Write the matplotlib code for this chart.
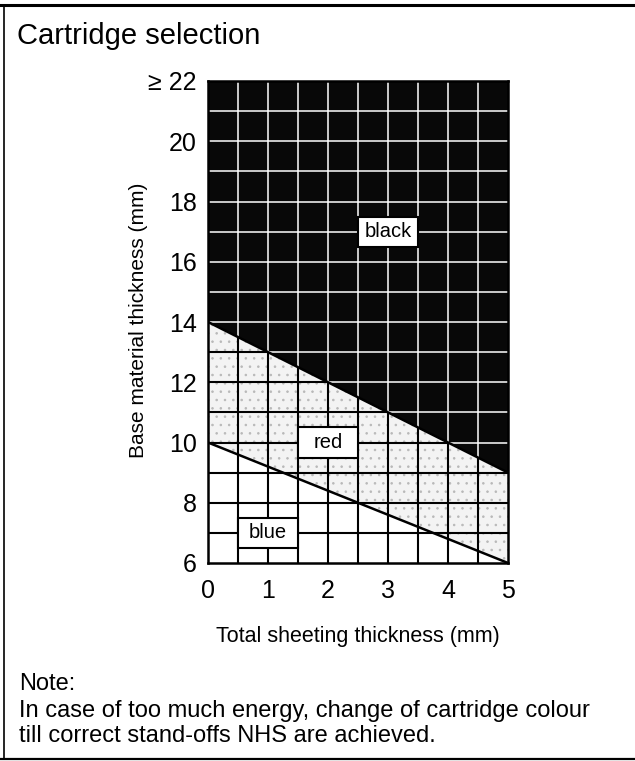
import numpy as np
import matplotlib
matplotlib.use("Agg")
import matplotlib.pyplot as plt
from matplotlib.lines import Line2D
from matplotlib.patches import Rectangle

# chart data
boundary_x = [0, 5]
black_lower = [14, 9]     # black / red boundary (mm)
red_lower = [10, 6]       # red / blue boundary (mm)
x_ticks = [0, 1, 2, 3, 4, 5]
y_ticks = [6, 8, 10, 12, 14, 16, 18, 20, 22]
y_tick_labels = ["6", "8", "10", "12", "14", "16", "18", "20", "\u2265 22"]
zone_names = ["black", "red", "blue"]
zone_x = [3.0, 2.0, 1.0]
zone_y = [17, 10, 7]

narrow = ["Liberation Sans Narrow", "Liberation Sans", "DejaVu Sans"]
regular = ["Liberation Sans", "DejaVu Sans"]

W, H = 635, 761
fig = plt.figure(figsize=(W / 100, H / 100), dpi=100)
ax = fig.add_axes([208 / W, 1 - 563 / H, 300 / W, 482 / H])

xmin, xmax, ymin, ymax = 0, 5, 6, 22
xs = np.linspace(xmin, xmax, 101)
up = np.interp(xs, boundary_x, black_lower)
lo = np.interp(xs, boundary_x, red_lower)

# zones
ax.fill_between(xs, up, ymax, color="#080808", lw=0, zorder=2)
plt.rcParams["hatch.linewidth"] = 0.6
ax.fill_between(xs, lo, up, facecolor="#f3f3f3", edgecolor="#b8b8b8",
                hatch="..", lw=0, zorder=1)

# grid: black in the lower part, white inside the black zone
gx = np.arange(0.5, 5.0, 0.5)
gy = np.arange(7, 22, 1)
gx_top = np.interp(gx, boundary_x, black_lower)
ax.vlines(gx, ymin, gx_top, color="black", lw=1.5, zorder=3)
ax.vlines(gx, gx_top, ymax, color="white", lw=1.1, zorder=3)
gy_split = np.interp(gy, black_lower[::-1], boundary_x[::-1])
ax.hlines(gy, xmin, gy_split, color="black", lw=1.5, zorder=3)
ax.hlines(gy, gy_split, xmax, color="white", lw=1.1, zorder=3)

# boundary lines
ax.plot(boundary_x, black_lower, color="black", lw=1.8, zorder=4)
ax.plot(boundary_x, red_lower, color="black", lw=1.8, zorder=4)

# zone labels
for name, cx, cy in zip(zone_names, zone_x, zone_y):
    ax.add_patch(Rectangle((cx - 0.5, cy - 0.5), 1, 1, facecolor="white",
                           edgecolor="black", lw=1.5, zorder=5))
    ax.text(cx, cy, name, ha="center", va="center", fontsize=14.5,
            family=narrow, zorder=6)

ax.set_xlim(xmin, xmax)
ax.set_ylim(ymin, ymax)
ax.set_xticks(x_ticks)
ax.set_xticklabels([str(v) for v in x_ticks], family=narrow, fontsize=18)
ax.set_yticks(y_ticks)
ax.set_yticklabels(y_tick_labels, family=narrow, fontsize=18)
ax.tick_params(length=0)
ax.tick_params(axis="x", pad=11.5)
ax.tick_params(axis="y", pad=8)
for s in ax.spines.values():
    s.set_linewidth(1.8)
    s.set_zorder(7)

ax.set_xlabel("Total sheeting thickness (mm)", family=narrow, fontsize=15.5,
              va="baseline")
ax.xaxis.set_label_coords(0.5, -(642 - 563) / 482)
ax.set_ylabel("Base material thickness (mm)", family=narrow, fontsize=15,
              va="center")
ax.yaxis.set_label_coords((139 - 208) / 300, 0.504)

# title and note
fig.text(17 / W, 1 - 44 / H, "Cartridge selection", family=regular,
         fontsize=21, ha="left", va="baseline")
fig.text(19 / W, 1 - 690 / H, "Note:", family=regular, fontsize=17,
         ha="left", va="baseline")
fig.text(19 / W, 1 - 717 / H,
         "In case of too much energy, change of cartridge colour",
         family=regular, fontsize=17, ha="left", va="baseline")
fig.text(19 / W, 1 - 742 / H, "till correct stand-offs NHS are achieved.",
         family=regular, fontsize=17, ha="left", va="baseline")

# frame around the figure
fig.add_artist(Line2D([0, 1], [1 - 5 / H] * 2, color="black", lw=2.2))
fig.add_artist(Line2D([4 / W] * 2, [1 - 5 / H, 1 - 759 / H], color="black", lw=1.2))
fig.add_artist(Line2D([0, 1], [1 - 759 / H] * 2, color="black", lw=1.6))

fig.savefig("out.png", dpi=100)
